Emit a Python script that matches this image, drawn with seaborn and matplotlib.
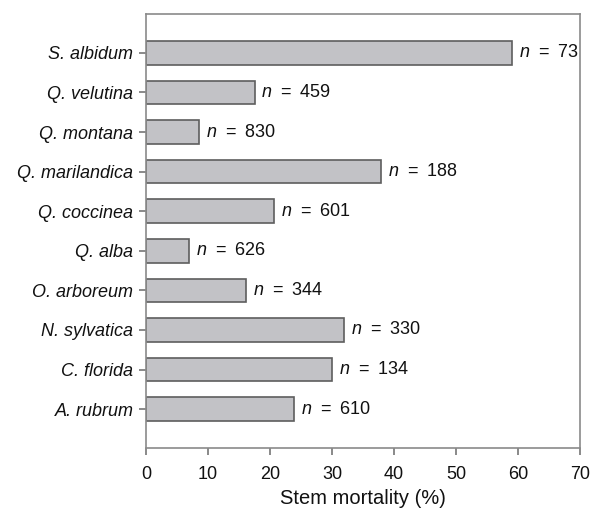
import matplotlib
matplotlib.use("Agg")
import matplotlib.pyplot as plt
import seaborn as sns
import pandas as pd

species = ["S. albidum", "Q. velutina", "Q. montana", "Q. marilandica", "Q. coccinea",
           "Q. alba", "O. arboreum", "N. sylvatica", "C. florida", "A. rubrum"]
mortality = [59.0, 17.5, 8.5, 37.9, 20.6, 6.9, 16.1, 32.0, 30.0, 23.9]
n_values = [73, 459, 830, 188, 601, 626, 344, 330, 134, 610]
xticks = [0, 10, 20, 30, 40, 50, 60, 70]

df = pd.DataFrame({"species": species, "mortality": mortality})

sns.set_theme(style="white")
plt.rcParams["font.family"] = ["Liberation Sans", "DejaVu Sans"]
plt.rcParams["mathtext.fontset"] = "custom"
plt.rcParams["mathtext.it"] = "Liberation Sans:italic"
plt.rcParams["mathtext.rm"] = "Liberation Sans"

fig = plt.figure(figsize=(5.92, 5.11), dpi=100)
ax = fig.add_axes([0.2466, 0.1233, 0.7334, 0.8493])

sns.barplot(data=df, x="mortality", y="species", orient="h", ax=ax,
            color="#c2c2c6", edgecolor="#5e5e5e", linewidth=1.2, width=0.6,
            saturation=1)

for i, (v, n) in enumerate(zip(mortality, n_values)):
    ax.annotate(f"$n$\u2002=\u2002{n}", xy=(v, i), xytext=(5, 0), textcoords="offset points",
                va="center", ha="left", fontsize=13, color="#111111")

ax.set_xlim(0, 70)
ax.set_ylim(9.98, -0.98)
ax.set_xticks(xticks)
ax.set_xticklabels([str(t) for t in xticks], fontsize=13, color="#111111")
for lbl in ax.get_yticklabels():
    lbl.set_fontstyle("italic")
    lbl.set_fontsize(13)
    lbl.set_color("#111111")
ax.set_ylabel("")
ax.set_xlabel("Stem mortality (%)", fontsize=14.5, color="#111111", labelpad=4)

for s in ax.spines.values():
    s.set_color("#8a8a8a")
    s.set_linewidth(1.2)
ax.tick_params(axis="both", which="major", direction="out", length=5, width=1.1,
               color="#6a6a6a", left=True, bottom=True)
ax.tick_params(axis="x", pad=8)
ax.tick_params(axis="y", pad=4)

fig.savefig("out.png", dpi=100)
